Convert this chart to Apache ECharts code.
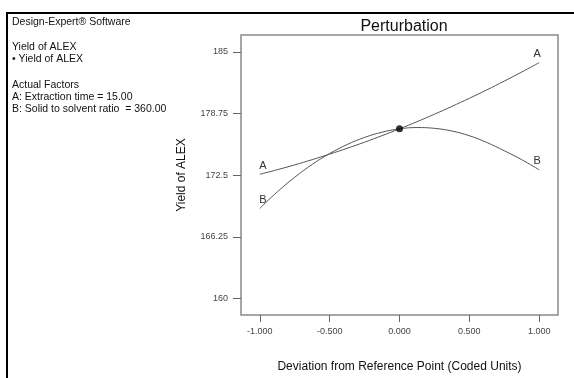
<!DOCTYPE html>
<html>
<head>
<meta charset="utf-8">
<script src="https://cdn.jsdelivr.net/npm/echarts@6/dist/echarts.min.js"></script>
<style>
  html, body { margin: 0; padding: 0; background: #fff; }
  #chart { width: 574px; height: 378px; }
</style>
</head>
<body>
<div id="chart"></div>
<script>
// Deviation from the reference point (coded units)
const deviation = [-1, -0.875, -0.75, -0.625, -0.5, -0.375, -0.25, -0.125, 0,
                   0.125, 0.25, 0.375, 0.5, 0.625, 0.75, 0.875, 1];
// Predicted yield when each factor is moved on its own
const factorA = [172.6, 173.06, 173.55, 174.08, 174.64, 175.23, 175.85, 176.51, 177.2,
                 177.92, 178.68, 179.47, 180.29, 181.14, 182.03, 182.95, 183.9];
const factorB = [169.15, 170.82, 172.3, 173.6, 174.7, 175.61, 176.33, 176.86, 177.2,
                 177.33, 177.25, 176.98, 176.5, 175.82, 174.98, 174.08, 173.05];
// Reference point
const refPoint = [[0, 177.2]];
// Axis ticks
const xTicks = [-1, -0.5, 0, 0.5, 1];
const yTicks = [160, 166.25, 172.5, 178.75, 185];
// Side panel text
const infoLines = [
  ['Design-Expert® Software', 23],
  ['Yield of ALEX', 48],
  ['• Yield of ALEX', 60],
  ['Actual Factors', 86],
  ['A: Extraction time = 15.00', 98],
  ['B: Solid to solvent ratio  = 360.00', 110]
];

const FONT = 'Liberation Sans, Arial, sans-serif';

// Letter labels at both ends of a factor curve
function withEndLabels(xs, ys, letter) {
  return xs.map((x, i) => {
    const item = { value: [x, ys[i]] };
    if (i === 0 || i === xs.length - 1) {
      item.label = {
        show: true, formatter: letter, position: 'top', distance: 3,
        offset: [i === 0 ? 3 : -2, 0],
        color: '#333', fontSize: 11, fontFamily: FONT
      };
    }
    return item;
  });
}

const chart = echarts.init(document.getElementById('chart'), null, { renderer: 'canvas' });

chart.setOption({
  backgroundColor: '#fff',
  animation: false,
  title: {
    text: 'Perturbation',
    left: 399, top: 14, textAlign: 'center',
    textStyle: { fontFamily: FONT, fontSize: 16, fontWeight: 'normal', color: '#111' }
  },
  grid: {
    left: 241, right: 16, top: 35, bottom: 62,
    show: true, borderColor: '#8a8a8a', borderWidth: 1.5, backgroundColor: 'transparent'
  },
  xAxis: {
    type: 'value', min: -1.135, max: 1.135,
    name: 'Deviation from Reference Point (Coded Units)',
    nameLocation: 'middle', nameGap: 46,
    nameTextStyle: { fontFamily: FONT, fontSize: 12, color: '#111' },
    axisLine: { show: false, onZero: false },
    splitLine: { show: false },
    axisTick: { show: true, length: 7, lineStyle: { color: '#666', width: 1 }, customValues: xTicks },
    axisLabel: {
      customValues: xTicks, fontFamily: FONT, fontSize: 9, color: '#444', margin: 12,
      formatter: v => v.toFixed(3)
    }
  },
  yAxis: {
    type: 'value', min: 158.35, max: 186.7,
    name: 'Yield of ALEX',
    nameLocation: 'middle', nameGap: 53,
    nameTextStyle: { fontFamily: FONT, fontSize: 12, color: '#111' },
    axisLine: { show: false, onZero: false },
    splitLine: { show: false },
    axisTick: { show: true, length: 8, lineStyle: { color: '#666', width: 1 }, customValues: yTicks },
    axisLabel: {
      customValues: yTicks, fontFamily: FONT, fontSize: 9, color: '#444', margin: 13,
      formatter: v => String(v)
    }
  },
  series: [
    {
      name: 'A', type: 'line', smooth: 0.4,
      showSymbol: true, symbol: 'circle', symbolSize: 0,
      lineStyle: { color: '#555', width: 1 },
      data: withEndLabels(deviation, factorA, 'A'),
      z: 2
    },
    {
      name: 'B', type: 'line', smooth: 0.4,
      showSymbol: true, symbol: 'circle', symbolSize: 0,
      lineStyle: { color: '#555', width: 1 },
      data: withEndLabels(deviation, factorB, 'B'),
      z: 2
    },
    {
      name: 'Yield of ALEX', type: 'scatter', symbol: 'circle', symbolSize: 7,
      itemStyle: { color: '#000' },
      data: refPoint, z: 3
    }
  ],
  graphic: [
    { type: 'line', shape: { x1: 7, y1: 13, x2: 574, y2: 13 }, style: { stroke: '#000', lineWidth: 2 } },
    { type: 'line', shape: { x1: 7, y1: 12, x2: 7, y2: 378 }, style: { stroke: '#000', lineWidth: 2 } }
  ].concat(infoLines.map(([t, y]) => ({
    type: 'text', left: 12, top: y - 6,
    style: { text: t, fontFamily: FONT, fontSize: 10.5, fill: '#111' }
  })))
});
</script>
</body>
</html>
